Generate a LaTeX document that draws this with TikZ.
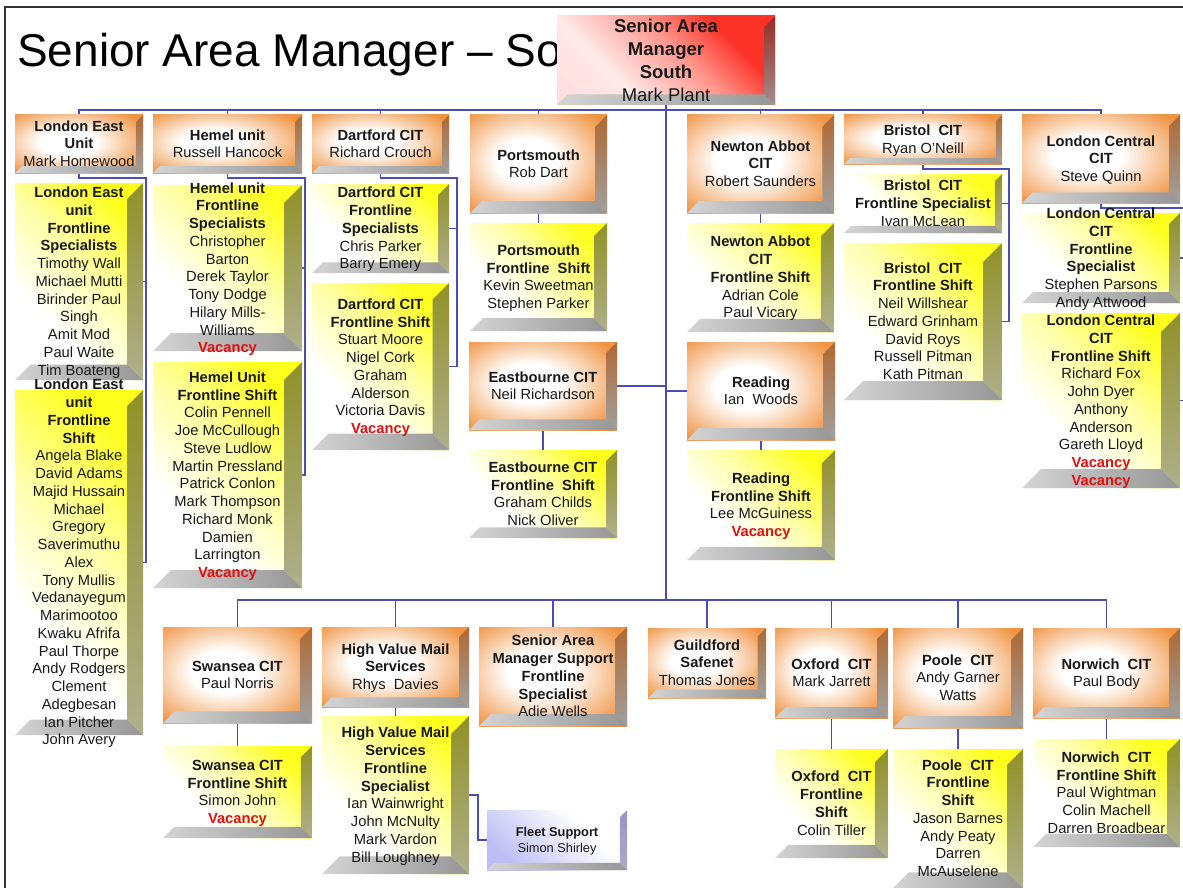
\documentclass[tikz,border=0pt]{standalone}
\usepackage{fontspec}
\setmainfont{Liberation Sans}
\usetikzlibrary{calc}
\definecolor{orF}{RGB}{240,148,68}
\definecolor{orBT}{RGB}{175,105,50}
\definecolor{orBB}{RGB}{160,160,160}
\definecolor{yeF}{RGB}{255,255,30}
\definecolor{yeL}{RGB}{255,255,165}
\definecolor{yeBT}{RGB}{145,145,40}
\definecolor{yeBB}{RGB}{175,175,140}
\definecolor{rdF}{RGB}{250,50,40}
\definecolor{rdM}{RGB}{255,150,140}
\definecolor{rdP}{RGB}{255,232,232}
\definecolor{rdL}{RGB}{255,212,212}
\definecolor{rdBT}{RGB}{150,45,35}
\definecolor{rdBB}{RGB}{165,140,140}
\definecolor{blF}{RGB}{190,190,245}
\definecolor{blBT}{RGB}{150,150,200}
\definecolor{blBB}{RGB}{170,170,200}
\definecolor{bvL}{RGB}{212,212,212}
\definecolor{bvR}{RGB}{150,150,150}
\definecolor{conn}{RGB}{75,75,185}
\definecolor{vred}{RGB}{225,15,15}
\definecolor{txt}{RGB}{25,25,25}
\pgfdeclarelayer{background}
\pgfsetlayers{background,main}
\pgfdeclareradialshading{oface}{\pgfpoint{-5bp}{2bp}}{color(0bp)=(white); color(11bp)=(white); color(33bp)=(orF); color(100bp)=(orF)}
\pgfdeclarehorizontalshading{yface}{100bp}{color(0bp)=(white); color(35bp)=(white); color(55bp)=(yeL); color(75bp)=(yeF); color(100bp)=(yeF)}
\pgfdeclarehorizontalshading{rface}{100bp}{color(0bp)=(rdL); color(35bp)=(rdP); color(55bp)=(rdM); color(70bp)=(rdF); color(100bp)=(rdF)}
\pgfdeclarehorizontalshading{bface}{100bp}{color(0bp)=(white); color(35bp)=(white); color(75bp)=(blF); color(100bp)=(blF)}
\newcommand\bevelpic[2]{%
  \path (path picture bounding box.south west) coordinate (bSW)
        (path picture bounding box.north east) coordinate (bNE)
        (path picture bounding box.south east) coordinate (bSE);
  \pgfpointdiff{\pgfpointanchor{bSW}{center}}{\pgfpointanchor{bNE}{center}}%
  \pgfgetlastxy{\bW}{\bH}%
  \pgfmathsetlengthmacro{\bv}{0.12*min(\bW,\bH)}%
  \shade[top color=#1, bottom color=#2] (bNE) -- (bSE) -- ([shift={(-\bv,\bv)}]bSE) -- ([shift={(-\bv,-\bv)}]bNE) -- cycle;
  \shade[left color=bvL, right color=bvR] (bSW) -- (bSE) -- ([shift={(-\bv,\bv)}]bSE) -- ([shift={(\bv,\bv)}]bSW) -- cycle;
}
\tikzset{
  boxbase/.style={rectangle, inner sep=0pt, outer sep=0pt, draw=none, text=txt,
    font=\fontsize{14.7}{17.75}\selectfont},
  orbox/.style={boxbase, shading=oface, path picture={\bevelpic{orBT}{orBB}}},
  yebox/.style={boxbase, shading=yface, shading angle=45, path picture={\bevelpic{yeBT}{yeBB}}},
  rebox/.style={boxbase, shading=rface, shading angle=45, path picture={\bevelpic{rdBT}{rdBB}},
    font=\fontsize{18.5}{23}\selectfont},
  blbox/.style={boxbase, shading=bface, shading angle=225, path picture={\bevelpic{blBT}{blBB}},
    font=\fontsize{12.8}{16}\selectfont},
  conline/.style={draw=conn, line width=1.2pt},
  frameline/.style={draw=black!80, line width=1.4pt},
}
\newcommand\hd[1]{\textbf{#1}}
\newcommand\vac{\textcolor{vred}{\textbf{Vacancy}}}
\newcommand\bx[8][-5]{%
  \node[#3, anchor=north west, minimum width=#6pt, minimum height=#7pt] (#2) at (#4,#5)
   {\makebox[0pt]{\smash{\raisebox{#1pt}{\begin{tabular}{@{}c@{}}#8\end{tabular}}}}};}
\begin{document}
\begin{tikzpicture}[x=1pt,y=-1pt]
\useasboundingbox (0,0) rectangle (1183,888);
\draw[frameline] (5,888) -- (5,7) -- (1183,7);
\node[anchor=base west, inner sep=0pt, font=\fontsize{46}{50}\selectfont] (title) at (17,67) {Senior Area Manager – So};
% top level
\bx[-6.5]{sam}{rebox}{557}{16}{218}{89}{\hd{Senior Area}\\\hd{Manager}\\\hd{South}\\Mark Plant}
\bx{le}{orbox}{15}{115}{128}{58}{\hd{London East}\\\hd{Unit}\\Mark Homewood}
\bx{hm}{orbox}{153}{115}{149}{58}{\hd{Hemel unit}\\Russell Hancock}
\bx{df}{orbox}{312}{115}{137}{58}{\hd{Dartford CIT}\\Richard Crouch}
\bx{po}{orbox}{470}{115}{137}{98}{\hd{Portsmouth}\\Rob Dart}
\bx{na}{orbox}{687}{115}{147}{98}{\hd{Newton Abbot}\\\hd{CIT}\\Robert Saunders}
\bx{bc}{orbox}{844}{115}{158}{49}{\hd{Bristol~ CIT}\\Ryan O'Neill}
\bx{lc}{orbox}{1022}{115}{158}{88}{\hd{London Central}\\\hd{CIT}\\Steve Quinn}
% second level
\bx{les}{yebox}{15}{183}{128}{197}{\hd{London East}\\\hd{unit}\\\hd{Frontline}\\\hd{Specialists}\\Timothy Wall\\Michael Mutti\\Birinder Paul\\Singh\\Amit Mod\\Paul Waite\\Tim Boateng}
\bx{lef}{yebox}{15}{390}{128}{345}{\hd{London East}\\\hd{unit}\\\hd{Frontline}\\\hd{Shift}\\Angela Blake\\David Adams\\Majid Hussain\\Michael\\Gregory\\Saverimuthu\\Alex\\Tony Mullis\\Vedanayegum\\Marimootoo\\Kwaku Afrifa\\Paul Thorpe\\Andy Rodgers\\Clement\\Adegbesan\\Ian Pitcher\\John Avery}
\bx{hms}{yebox}{153}{185}{149}{166}{\hd{Hemel unit}\\\hd{Frontline}\\\hd{Specialists}\\Christopher\\Barton\\Derek Taylor\\Tony Dodge\\Hilary Mills-\\Williams\\\vac}
\bx{hmf}{yebox}{153}{362}{149}{226}{\hd{Hemel Unit}\\\hd{Frontline Shift}\\Colin Pennell\\Joe McCullough\\Steve Ludlow\\Martin Pressland\\Patrick Conlon\\Mark Thompson\\Richard Monk\\Damien\\Larrington\\\vac}
\bx{dfs}{yebox}{312}{184}{137}{89}{\hd{Dartford CIT}\\\hd{Frontline}\\\hd{Specialists}\\Chris Parker\\Barry Emery}
\bx{dff}{yebox}{312}{283}{137}{167}{\hd{Dartford CIT}\\\hd{Frontline Shift}\\Stuart Moore\\Nigel Cork\\Graham\\Alderson\\Victoria Davis\\\vac}
\bx{pof}{yebox}{470}{223}{137}{108}{\hd{Portsmouth}\\\hd{Frontline~ Shift}\\Kevin Sweetman\\Stephen Parker}
\bx{naf}{yebox}{687}{223}{147}{109}{\hd{Newton Abbot}\\\hd{CIT}\\\hd{Frontline Shift}\\Adrian Cole\\Paul Vicary}
\bx{eb}{orbox}{469}{342}{148}{88}{\hd{Eastbourne CIT}\\Neil Richardson}
\bx{ebf}{yebox}{469}{450}{148}{88}{\hd{Eastbourne CIT}\\\hd{Frontline~ Shift}\\Graham Childs\\Nick Oliver}
\bx{rd}{orbox}{687}{342}{148}{98}{\hd{Reading}\\Ian~ Woods}
\bx{rdf}{yebox}{687}{450}{148}{110}{\hd{Reading}\\\hd{Frontline Shift}\\Lee McGuiness\\\vac}
\bx{bcs}{yebox}{844}{174}{158}{59}{\hd{Bristol~ CIT}\\\hd{Frontline Specialist}\\Ivan McLean}
\bx{bcf}{yebox}{844}{243}{158}{157}{\hd{Bristol~ CIT}\\\hd{Frontline Shift}\\Neil Willshear\\Edward Grinham\\David Roys\\Russell Pitman\\Kath Pitman}
\bx{lcs}{yebox}{1022}{213}{158}{90}{\hd{London Central}\\\hd{CIT}\\\hd{Frontline}\\\hd{Specialist}\\Stephen Parsons\\Andy Attwood}
\bx{lcf}{yebox}{1022}{313}{158}{175}{\hd{London Central}\\\hd{CIT}\\\hd{Frontline Shift}\\Richard Fox\\John Dyer\\Anthony\\Anderson\\Gareth Lloyd\\\vac\\\vac}
% bottom row
\bx{sw}{orbox}{163}{627}{149}{96}{\hd{Swansea CIT}\\Paul Norris}
\bx{swf}{yebox}{163}{746}{149}{92}{\hd{Swansea CIT}\\\hd{Frontline Shift}\\Simon John\\\vac}
\bx{hv}{orbox}{322}{627}{147}{80}{\hd{High Value Mail}\\\hd{Services}\\Rhys~ Davies}
\bx{hvf}{yebox}{322}{716}{147}{158}{\hd{High Value Mail}\\\hd{Services}\\\hd{Frontline}\\\hd{Specialist}\\Ian Wainwright\\John McNulty\\Mark Vardon\\Bill Loughney}
\bx[-4.7]{fl}{blbox}{487}{810}{140}{60}{\hd{Fleet Support}\\Simon Shirley}
\bx{ss}{orbox}{479}{627}{148}{99}{\hd{Senior Area}\\\hd{Manager Support}\\\hd{Frontline}\\\hd{Specialist}\\Adie Wells}
\bx{gf}{orbox}{648}{628}{118}{70}{\hd{Guildford}\\\hd{Safenet}\\Thomas Jones}
\bx{ox}{orbox}{775}{628}{113}{90}{\hd{Oxford~ CIT}\\Mark Jarrett}
\bx{oxf}{yebox}{775}{749}{113}{109}{\hd{Oxford~ CIT}\\\hd{Frontline}\\\hd{Shift}\\Colin Tiller}
\bx{pl}{orbox}{893}{628}{130}{100}{\hd{Poole~ CIT}\\Andy Garner\\Watts}
\bx{plf}{yebox}{893}{749}{130}{139}{\hd{Poole~ CIT}\\\hd{Frontline}\\\hd{Shift}\\Jason Barnes\\Andy Peaty\\Darren\\McAuselene}
\bx{nw}{orbox}{1033}{628}{147}{90}{\hd{Norwich~ CIT}\\Paul Body}
\bx{nwf}{yebox}{1033}{739}{147}{108}{\hd{Norwich~ CIT}\\\hd{Frontline Shift}\\Paul Wightman\\Colin Machell\\Darren Broadbear}
% connectors
\begin{pgfonlayer}{background}
\coordinate (tb) at (666,110);
\coordinate (bb) at (666,600);
\draw[conline] (le.north) |- (tb) -| (lc.north);
\foreach \n in {hm,df,po,na,bc} \draw[conline] (\n.north) -- (\n.north |- tb);
\draw[conline] (sam.south) -- (bb);
\draw[conline] (sw.north) |- (bb) -| (nw.north);
\foreach \n in {hv,ss,gf,ox,pl} \draw[conline] (\n.north) -- (\n.north |- bb);
\draw[conline] (eb.east) -- (eb.east -| tb);
\draw[conline] (rd.west) -- (rd.west -| tb);
\foreach \a/\b in {po/pof,na/naf,eb/ebf,rd/rdf,sw/swf,hv/hvf,ox/oxf,pl/plf,nw/nwf}
  \draw[conline] (\a.south) -- (\b.north);
\coordinate (lesp) at (146,178);
\draw[conline] (le.south) |- (lesp) |- (lef.east);
\draw[conline] (les.east) -- (les.east -| lesp);
\coordinate (hmsp) at (305,178);
\draw[conline] (hm.south) |- (hmsp) |- (hmf.east);
\draw[conline] (hms.east) -- (hms.east -| hmsp);
\coordinate (dfsp) at (457,178);
\draw[conline] (df.south) |- (dfsp) |- (dff.east);
\draw[conline] (dfs.east) -- (dfs.east -| dfsp);
\coordinate (bcsp) at (1009,169);
\draw[conline] (bc.south) |- (bcsp) |- (bcf.east);
\draw[conline] (bcs.east) -- (bcs.east -| bcsp);
\coordinate (lcsp) at (1187,208);
\draw[conline] (lc.south) |- (lcsp) |- (lcf.east);
\draw[conline] (lcs.east) -- (lcs.east -| lcsp);
\coordinate (flsp) at (478,800);
\draw[conline] (hvf.east) -| (flsp |- fl.west) -- (fl.west);
\end{pgfonlayer}
\end{tikzpicture}
\end{document}
